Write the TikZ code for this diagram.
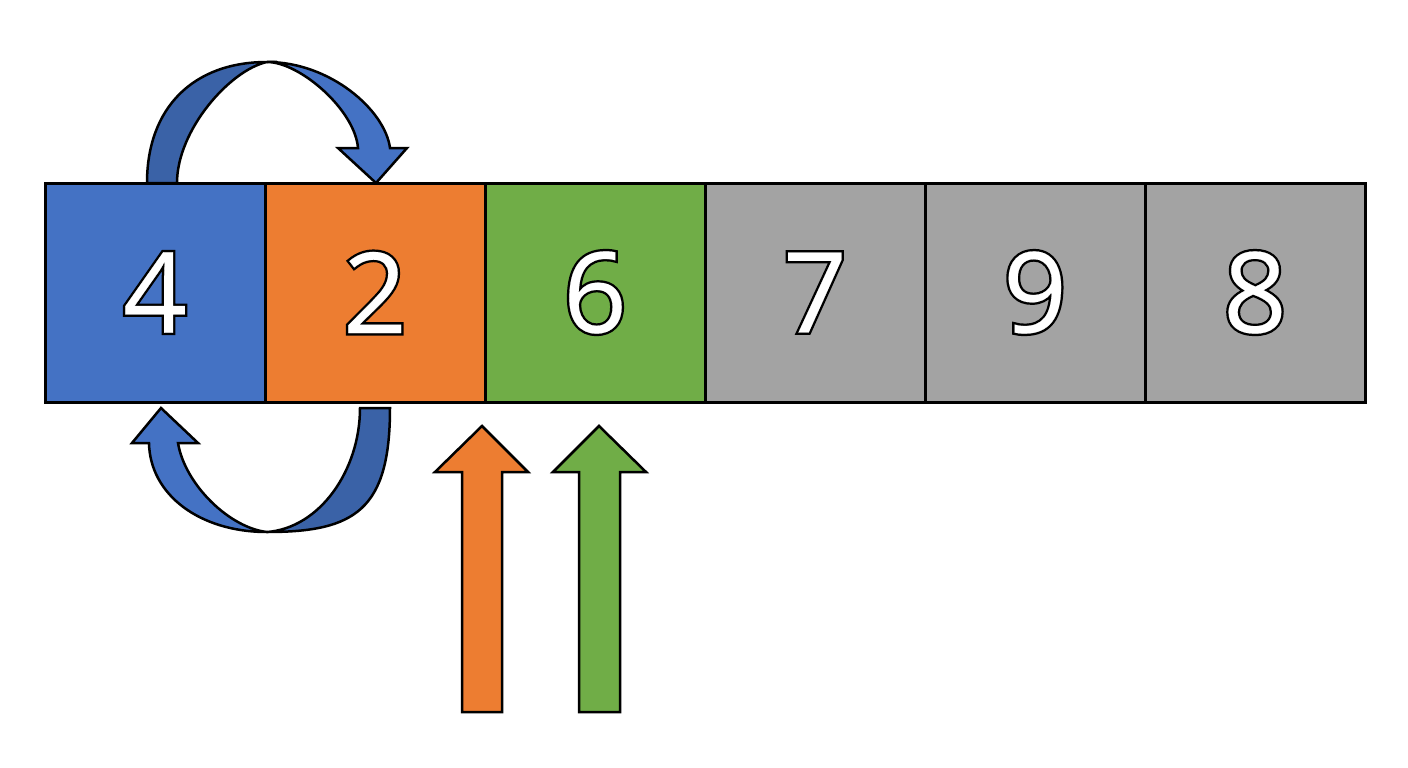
\documentclass[tikz,border=0pt]{standalone}
\usepackage{fontspec}
\setmainfont{Open Sans}
\newcommand{\strk}[1]{\special{pdf:literal direct 0 0 0 RG 1 Tr 5 w}#1\special{pdf:literal direct 0 Tr}}
\newcommand{\fll}[1]{\special{pdf:literal direct 1 1 1 RG 2 Tr 0.2 w}#1\special{pdf:literal direct 0 Tr}}
\definecolor{cblue}{HTML}{4472C4}
\definecolor{cbluedark}{HTML}{3A62A7}
\definecolor{corange}{HTML}{ED7D31}
\definecolor{cgreen}{HTML}{70AD47}
\definecolor{cgray}{HTML}{A3A3A3}
\begin{document}
\begin{tikzpicture}[x=1pt,y=-1pt,
  cell/.style={draw=black, line width=3pt, minimum width=220pt, minimum height=219pt, inner sep=0pt, outer sep=0pt},
  digs/.style={inner sep=0pt, text=black, font=\fontsize{112}{112}\selectfont},
  digf/.style={inner sep=0pt, text=white, font=\fontsize{112}{112}\selectfont},
  shp/.style={draw=black, line width=2.5pt, line join=miter}]
\useasboundingbox (0,0) rectangle (1408,768);
\fill[white] (0,0) rectangle (1408,768);
% cells
\node[cell, fill=cblue]   (c1) at (155,292.5) {};
\node[cell, fill=corange] (c2) at (375,292.5) {};
\node[cell, fill=cgreen]  (c3) at (595,292.5) {};
\node[cell, fill=cgray]   (c4) at (815,292.5) {};
\node[cell, fill=cgray]   (c5) at (1035,292.5) {};
\node[cell, fill=cgray]   (c6) at (1255,292.5) {};
% digit outlines (stroke) then digit fills
\node[digs] (s1) at (c1) {\strk{4}};
\node[digs] (s2) at (c2) {\strk{2}};
\node[digs] (s3) at (c3) {\strk{6}};
\node[digs] (s4) at (c4) {\strk{7}};
\node[digs] (s5) at (c5) {\strk{9}};
\node[digs] (s6) at (c6) {\strk{8}};
\node[digf] (d1) at (c1) {\fll{4}};
\node[digf] (d2) at (c2) {\fll{2}};
\node[digf] (d3) at (c3) {\fll{6}};
\node[digf] (d4) at (c4) {\fll{7}};
\node[digf] (d5) at (c5) {\fll{9}};
\node[digf] (d6) at (c6) {\fll{8}};
% top curved arrow: left (back) band
\filldraw[shp, fill=cbluedark] (147,183) .. controls (147,108) and (193,62) .. (267,62)
  .. controls (230,70) and (177,130) .. (177,183) -- cycle;
% top curved arrow: right band with head
\filldraw[shp, fill=cblue] (267,62) .. controls (330,62) and (385,110) .. (390,148)
  -- (407,148) -- (376,183) -- (338,148) -- (358,148)
  .. controls (355,110) and (300,62) .. (267,62) -- cycle;
% bottom curved arrow: right (back) band
\filldraw[shp, fill=cbluedark] (390,408) .. controls (390,510) and (355,532) .. (267,532)
  .. controls (320,528) and (360,470) .. (360,408) -- cycle;
% bottom curved arrow: left band with head
\filldraw[shp, fill=cblue] (267,532) .. controls (200,532) and (150,495) .. (149,443)
  -- (132,443) -- (161,408) -- (198,443) -- (178,443)
  .. controls (185,485) and (230,528) .. (267,532) -- cycle;
% straight arrows
\filldraw[shp, fill=corange] (462,712) -- (462,472) -- (435,472) -- (482,426) -- (528,472) -- (502,472) -- (502,712) -- cycle;
\filldraw[shp, fill=cgreen] (579,712) -- (579,472) -- (553,472) -- (599,426) -- (646,472) -- (620,472) -- (620,712) -- cycle;
\end{tikzpicture}
\end{document}
